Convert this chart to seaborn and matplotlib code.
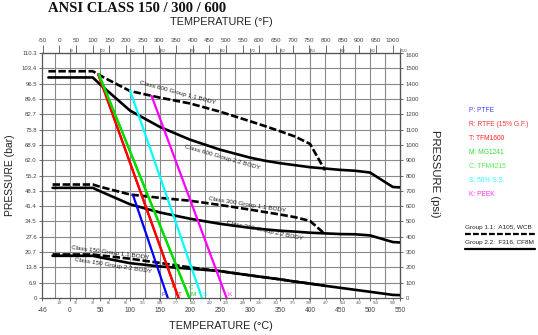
import numpy as np
import pandas as pd
import matplotlib
matplotlib.use("Agg")
import matplotlib.pyplot as plt
from matplotlib.lines import Line2D
import seaborn as sns

# ---- Body pressure-temperature ratings (bar vs degC) ----
c600_g11_temp = [-36, 38, 50, 100, 150, 200, 250, 300, 325, 350, 375, 400, 425]
c600_g11_bar = [102.1, 102.1, 100.2, 93.2, 90.2, 87.6, 83.9, 79.6, 77.4, 75.1, 72.7, 69.4, 57.5]
c600_g22_temp = [-36, 38, 50, 100, 150, 200, 250, 300, 325, 350, 375, 400, 425, 450, 475, 500, 538, 550]
c600_g22_bar = [99.3, 99.3, 96.2, 84.4, 77.0, 71.3, 66.8, 63.2, 61.8, 60.7, 59.8, 58.9, 58.3, 57.7, 57.3, 56.5, 50.0, 49.8]

c300_g11_temp = [-29, 38, 50, 100, 150, 200, 250, 300, 325, 350, 375, 400, 425]
c300_g11_bar = [51.1, 51.1, 50.1, 46.6, 45.1, 43.8, 41.9, 39.8, 38.7, 37.6, 36.4, 34.7, 28.8]
c300_g22_temp = [-29, 38, 50, 100, 150, 200, 250, 300, 325, 350, 375, 400, 425, 450, 475, 500, 538, 550]
c300_g22_bar = [49.6, 49.6, 48.1, 42.2, 38.5, 35.7, 33.4, 31.6, 30.9, 30.3, 29.9, 29.4, 29.1, 28.8, 28.7, 28.2, 25.2, 25.0]

c150_g11_temp = [-29, 38, 50, 100, 150, 200, 250, 300, 325, 350, 375, 400, 425]
c150_g11_bar = [19.6, 19.6, 19.2, 17.7, 15.8, 13.8, 12.1, 10.2, 9.3, 8.4, 7.4, 6.5, 5.5]
c150_g22_temp = [-29, 38, 50, 100, 150, 200, 250, 300, 325, 350, 375, 400, 425, 450, 475, 500, 538, 550]
c150_g22_bar = [19.0, 19.0, 18.3, 15.7, 14.2, 13.2, 12.1, 10.2, 9.3, 8.4, 7.4, 6.5, 5.5, 4.6, 3.7, 2.8, 1.4, 1.3]

# ---- Seat ratings (straight lines, bar vs degC) ----
ptfe_temp, ptfe_bar = [105, 163], [46.4, 0]
rtfe_temp, rtfe_bar = [47, 181], [100.8, 0]
tfm1600_temp, tfm1600_bar = [47, 181], [100.8, 0]
mg1241_temp, mg1241_bar = [48, 199], [100.8, 0]
tfm4215_temp, tfm4215_bar = [48, 199], [100.8, 0]
ss50_temp, ss50_bar = [100, 220], [93.5, 0]
peek_temp, peek_bar = [136, 261], [91.0, 0]

# ---- Axis tick values ----
bar_tick_labels = ["0", "6.9", "13.8", "20.7", "27.6", "34.5", "41.4", "48.3", "55.2",
                   "62.0", "68.9", "75.8", "82.7", "89.6", "96.5", "103.4", "110.3"]
psi_ticks = list(range(0, 1700, 100))
degc_major = [-46, 0, 50, 100, 150, 200, 250, 300, 350, 400, 450, 500, 550]
degf_major = list(range(-50, 1050, 50))
degc_grid = list(range(-25, 550, 25))

PSI_PER_BAR = 14.5038


def c2f(c):
    return np.asarray(c) * 9.0 / 5.0 + 32.0


def f2c(f):
    return (np.asarray(f) - 32.0) * 5.0 / 9.0


sns.set_style("white")
plt.rcParams["font.family"] = ["Liberation Sans", "DejaVu Sans"]

fig = plt.figure(figsize=(5.38, 3.35), dpi=100)
ax = fig.add_axes([0.0788, 0.1104, 0.6647, 0.7314])

XMIN, XMAX = -46, 550
YMAX = 1600 / PSI_PER_BAR
ax.set_xlim(XMIN, XMAX)
ax.set_ylim(0, YMAX)

# grid
grid_col = "#8a8a8a"
ax.vlines(degc_grid, 0, YMAX, colors=grid_col, linewidth=0.8, zorder=0)
bar_ticks = [p / PSI_PER_BAR for p in psi_ticks]
ax.hlines(bar_ticks[1:-1], XMIN, XMAX, colors=grid_col, linewidth=0.8, zorder=0)

for s in ["top", "bottom", "left", "right"]:
    ax.spines[s].set_color("#555555")
    ax.spines[s].set_linewidth(0.9)

# body curves
dash = (0, (2.8, 1.0))
body = [
    (c600_g11_temp, c600_g11_bar, dash),
    (c600_g22_temp, c600_g22_bar, "-"),
    (c300_g11_temp, c300_g11_bar, dash),
    (c300_g22_temp, c300_g22_bar, "-"),
    (c150_g11_temp, c150_g11_bar, dash),
    (c150_g22_temp, c150_g22_bar, "-"),
]
for t, b, ls in body:
    sns.lineplot(x=t, y=b, ax=ax, color="black", linewidth=1.9, linestyle=ls,
                 sort=False, zorder=3)

# seat lines
seats = [
    (ptfe_temp, ptfe_bar, "#0000ff"),
    (tfm1600_temp, tfm1600_bar, "#ff0000"),
    (rtfe_temp, rtfe_bar, "#ff0000"),
    (tfm4215_temp, tfm4215_bar, "#00ee00"),
    (mg1241_temp, mg1241_bar, "#00dd00"),
    (ss50_temp, ss50_bar, "#00ffff"),
    (peek_temp, peek_bar, "#ff00ff"),
]
for t, b, col in seats:
    sns.lineplot(x=t, y=b, ax=ax, color=col, linewidth=1.6, sort=False, zorder=4)

# curve captions
cap_kw = dict(fontsize=4.6, color="#222222", ha="center", va="center",
              rotation_mode="anchor", zorder=6)
ax.text(180, 92.6, "Class 600 Group 1.1 BODY", rotation=-15, **cap_kw)
ax.text(253, 63.5, "Class 600 Group 2.2 BODY", rotation=-16, **cap_kw)
ax.text(295, 41.9, "Class 300 Group 1.1 BODY", rotation=-9, **cap_kw)
ax.text(325, 30.2, "Class 300 Group 2.2 BODY", rotation=-12, **cap_kw)
ax.text(67, 20.4, "Class 150 Group 1.1 BODY", rotation=-7.5, **cap_kw)
ax.text(72, 14.8, "Class 150 Group 2.2 BODY", rotation=-9, **cap_kw)

seat_kw = dict(fontsize=4.6, ha="center", va="center", zorder=6)
ax.text(155.5, 1.5, "P", color="#3333ff", **seat_kw)
ax.text(173.8, 5.4, "R", color="#ff2222", **seat_kw)
ax.text(183.3, 1.5, "T", color="#ff2222", **seat_kw)
ax.text(201.7, 4.8, "C", color="#22dd22", **seat_kw)
ax.text(205.5, 1.5, "M", color="#22cc22", **seat_kw)
ax.text(225, 1.5, "S", color="#22eeee", **seat_kw)
ax.text(266.7, 1.5, "K", color="#ff22ff", **seat_kw)

# left axis (bar)
ax.set_yticks(bar_ticks, labels=bar_tick_labels)
ax.tick_params(axis="y", which="major", direction="out", length=2.5, width=0.6,
               pad=1.5, labelsize=4.3, labelcolor="#444444", color="#555555", left=True)

# bottom axis (degC): major labels plus small degF-equivalent marks
ax.set_xticks(degc_major, labels=[str(v) for v in degc_major])
minor_c = f2c(np.array(degf_major[1:]))
ax.set_xticks(minor_c, labels=[str(int(round(v))) for v in minor_c], minor=True)
ax.tick_params(axis="x", which="major", direction="out", length=2.5, width=0.6,
               pad=4.2, labelsize=4.8, labelcolor="#444444", color="#555555", bottom=True)
ax.tick_params(axis="x", which="minor", direction="out", length=1.5, width=0.5,
               pad=0.4, labelsize=2.6, labelcolor="#555555", color="#555555", bottom=True)

# top axis (degF)
secx = ax.secondary_xaxis("top", functions=(c2f, f2c))
secx.set_xticks(degf_major, labels=[str(v) for v in degf_major])
top_minor_c = list(range(0, 551, 50))
top_minor_f = c2f(np.array(top_minor_c))
secx.set_xticks(top_minor_f, labels=[str(int(round(v))) for v in top_minor_f], minor=True)
secx.tick_params(axis="x", which="major", direction="out", length=6, width=0.6,
                 pad=1.5, labelsize=4.5, labelcolor="#444444", color="#555555")
secx.tick_params(axis="x", which="minor", direction="out", length=3.5, width=0.5,
                 pad=-3.2, labelsize=2.6, labelcolor="#555555", color="#555555")
for lab in secx.xaxis.get_minorticklabels():
    lab.set_horizontalalignment("left")
secx.spines["top"].set_color("#555555")

# right axis (psi)
secy = ax.secondary_yaxis("right", functions=(lambda b: np.asarray(b) * PSI_PER_BAR,
                                              lambda p: np.asarray(p) / PSI_PER_BAR))
secy.set_yticks(psi_ticks, labels=[str(v) for v in psi_ticks])
secy.tick_params(axis="y", direction="out", length=2.5, width=0.6, pad=1.5,
                 labelsize=4.3, labelcolor="#444444", color="#555555")
for lab in secy.yaxis.get_majorticklabels():
    lab.set_verticalalignment("top" if lab.get_text() == "1600" else "center_baseline")

# axis titles
ax.set_ylabel("PRESSURE (bar)", fontsize=7.5, color="#222222", labelpad=5)
ax.set_xlabel("TEMPERATURE (°C)", fontsize=7.8, color="#222222", labelpad=5)
secx.set_xlabel("TEMPERATURE (°F)", fontsize=7.8, color="#222222", labelpad=9)
fig.text(435 / 538, 1 - 174 / 335, "PRESSURE (psi)", rotation=270, fontsize=8.2,
         color="#222222", ha="center", va="center")

# chart title
fig.text(48 / 538, 1 - 9 / 335, "ANSI CLASS 150 / 300 / 600", fontsize=10.5,
         fontweight="bold", family="Liberation Serif", color="#111111",
         ha="left", va="center")

# seat material key
key = [
    ("P: PTFE", "#4444ff"),
    ("R: RTFE (15% G.F.)", "#ff3333"),
    ("T: TFM1600", "#ff2222"),
    ("M: MG1241", "#33dd33"),
    ("C: TFM4215", "#55ee55"),
    ("S: 50% S.S.", "#33ffff"),
    ("K: PEEK", "#ff33ff"),
]
for i, (txt, col) in enumerate(key):
    fig.text(469 / 538, 1 - (110.7 + i * 13.9) / 335, txt, fontsize=4.8, color=col,
             ha="left", va="center")

# body material key
fig.text(465 / 538, 1 - 227.5 / 335, "Group 1.1:  A105, WCB", fontsize=4.6,
         color="#222222", ha="left", va="center")
fig.add_artist(Line2D([465 / 538, 535 / 538], [1 - 233.5 / 335, 1 - 233.5 / 335],
                      transform=fig.transFigure, color="black", linewidth=1.6,
                      linestyle=(0, (2.6, 1.0))))
fig.text(465 / 538, 1 - 242.5 / 335, "Group 2.2:  F316, CF8M", fontsize=4.6,
         color="#222222", ha="left", va="center")
fig.add_artist(Line2D([465 / 538, 535 / 538], [1 - 248.5 / 335, 1 - 248.5 / 335],
                      transform=fig.transFigure, color="black", linewidth=1.6))

fig.savefig("out.png", dpi=100)
